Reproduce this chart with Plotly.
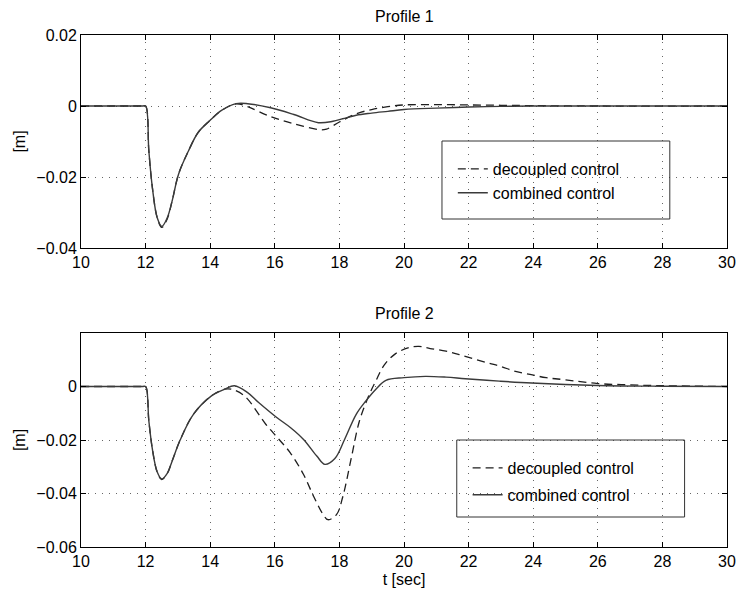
import plotly.graph_objects as go
from plotly.subplots import make_subplots

# ---------------- data ----------------
# Profile 1
t1_comb = [10, 11.9, 12.0, 12.1, 12.21, 12.36, 12.5, 12.67, 12.82, 13.02, 13.33, 13.63, 13.99,
           14.35, 14.8, 15.16, 15.87, 16.59, 17.35, 17.8, 18.1, 18.52, 19.0, 19.5, 20, 21, 22, 23, 24, 26, 30]
y1_comb = [0, 0, 0, -0.0126, -0.023, -0.0315, -0.0339, -0.0315, -0.0268, -0.0192, -0.0126, -0.0074, -0.0041,
           -0.00125, 0.00065, 0.00065, -0.0005, -0.0024, -0.0047, -0.0043, -0.0036, -0.0026, -0.0020, -0.0015,
           -0.0010, -0.0006, -0.0003, -0.0001, 0, 0, 0]
t1_dec = [10, 11.9, 12.0, 12.1, 12.21, 12.36, 12.5, 12.67, 12.82, 13.02, 13.33, 13.63, 13.99,
          14.35, 14.8, 15.16, 15.87, 16.59, 17.4, 17.6, 18.0, 18.52, 19.0, 19.5, 20, 21, 22, 23, 24, 26, 30]
y1_dec = [0, 0, 0, -0.0126, -0.023, -0.0315, -0.0342, -0.0318, -0.0268, -0.0192, -0.0126, -0.0074, -0.0041,
          -0.00125, 0.0006, -0.0002, -0.0030, -0.0050, -0.0067, -0.0065, -0.0045, -0.0022, -0.0010, -0.0002,
          0.0003, 0.0004, 0.0003, 0.0002, 0.0001, 0, 0]

# Profile 2
t2_comb = [10, 11.9, 12.0, 12.1, 12.21, 12.36, 12.5, 12.67, 12.82, 13.07, 13.48, 14.04, 14.45, 14.75,
           15.15, 15.5, 16.05, 16.5, 16.89, 17.3, 17.55, 17.86, 18.16, 18.52, 18.82, 19.13, 19.44, 20.0,
           20.66, 21.3, 21.9, 22.95, 23.95, 26, 28, 30]
y2_comb = [0, 0, 0, -0.0128, -0.0234, -0.0320, -0.0346, -0.0325, -0.0279, -0.0200, -0.0104, -0.0035,
           -0.0010, 0.0003, -0.0022, -0.0060, -0.0115, -0.0155, -0.0198, -0.0260, -0.0291, -0.0269, -0.0198,
           -0.0104, -0.0054, -0.0010, 0.0023, 0.0033, 0.0038, 0.0035, 0.0029, 0.0020, 0.0013, 0.0004,
           0.0001, 0]
t2_dec = [10, 11.9, 12.0, 12.1, 12.21, 12.36, 12.5, 12.67, 12.82, 13.07, 13.48, 14.04, 14.45, 14.65,
          15.06, 15.72, 16.08, 16.48, 16.89, 17.2, 17.5, 17.65, 17.91, 18.11, 18.37, 18.62, 18.93,
          19.13, 19.38, 19.74, 20.15, 20.46, 20.81, 21.3, 21.8, 22.6, 23.0, 23.4, 23.9, 24.4, 25.0,
          26, 27, 28, 30]
y2_dec = [0, 0, 0, -0.0128, -0.0234, -0.0320, -0.0348, -0.0325, -0.0279, -0.0200, -0.0104, -0.0035,
          -0.0010, -0.0010, -0.0035, -0.0141, -0.0191, -0.0248, -0.0329, -0.0410, -0.0479, -0.0498,
          -0.0479, -0.0410, -0.0266, -0.0129, -0.0029, 0.0021, 0.0079, 0.0123, 0.0145, 0.0150, 0.0142,
          0.0132, 0.0116, 0.0088, 0.0075, 0.0058, 0.0045, 0.0033, 0.0025, 0.0011, 0.0006, 0.0003, 0]

x_ticks = [10, 12, 14, 16, 18, 20, 22, 24, 26, 28, 30]
y1_ticks = [0.02, 0, -0.02, -0.04]
y1_ticktext = ["0.02", "0", "\u22120.02", "\u22120.04"]
y2_ticks = [0, -0.02, -0.04, -0.06]
y2_ticktext = ["0", "\u22120.02", "\u22120.04", "\u22120.06"]

names = ["decoupled control", "combined control"]
titles = ["Profile 1", "Profile 2"]

# ---------------- figure ----------------
FONT = "Liberation Sans, Arial, sans-serif"
W, H = 747, 598
ML, MR, MT, MB = 81, 11, 35, 51
PW, PH = W - ML - MR, H - MT - MB

def px_x(p):
    return (p - ML) / PW

def px_y(p):
    return (H - MB - p) / PH

fig = make_subplots(rows=2, cols=1, vertical_spacing=(333 - 248) / PH)
fig.update_layout(
    yaxis=dict(domain=[px_y(248), 1.0]),
    yaxis2=dict(domain=[0.0, px_y(333)]),
)

dash_style = "8px,5px"
solid_col = "#3a3a3a"
dash_col = "#1e1e1e"
SM = 1.0

fig.add_trace(go.Scatter(x=t1_dec, y=y1_dec, mode="lines", name=names[0],
                         line=dict(color=dash_col, width=1.3, dash=dash_style, shape="spline", smoothing=SM),
                         legend="legend", legendgroup="d1"), row=1, col=1)
fig.add_trace(go.Scatter(x=t1_comb, y=y1_comb, mode="lines", name=names[1],
                         line=dict(color=solid_col, width=1.4, shape="spline", smoothing=SM),
                         legend="legend", legendgroup="c1"), row=1, col=1)
fig.add_trace(go.Scatter(x=t2_dec, y=y2_dec, mode="lines", name=names[0],
                         line=dict(color=dash_col, width=1.3, dash=dash_style, shape="spline", smoothing=SM),
                         legend="legend2", legendgroup="d2"), row=2, col=1)
fig.add_trace(go.Scatter(x=t2_comb, y=y2_comb, mode="lines", name=names[1],
                         line=dict(color=solid_col, width=1.4, shape="spline", smoothing=SM),
                         legend="legend2", legendgroup="c2"), row=2, col=1)

axis_common = dict(showline=True, linecolor="black", linewidth=1, mirror="ticks",
                   ticks="inside", ticklen=5, tickcolor="black",
                   showgrid=True, gridcolor="#666666", griddash="1px,6px", gridwidth=1,
                   zeroline=False, tickfont=dict(size=16, color="black", family=FONT))

for r in (1, 2):
    fig.update_xaxes(range=[10, 30], tickvals=x_ticks, row=r, col=1, **axis_common)
fig.update_xaxes(title=dict(text="t [sec]", font=dict(size=16, color="black", family=FONT), standoff=4),
                 row=2, col=1)
fig.update_yaxes(range=[-0.04, 0.02], tickvals=y1_ticks, ticktext=y1_ticktext, row=1, col=1,
                 title=dict(text="[m]", font=dict(size=16, color="black", family=FONT), standoff=6),
                 **axis_common)
fig.update_yaxes(range=[-0.06, 0.02], tickvals=y2_ticks, ticktext=y2_ticktext, row=2, col=1,
                 title=dict(text="[m]", font=dict(size=16, color="black", family=FONT), standoff=6),
                 **axis_common)

legend_common = dict(bgcolor="rgba(0,0,0,0)", borderwidth=0,
                     font=dict(size=16, color="black", family=FONT),
                     xanchor="left", yanchor="top", itemwidth=30)

fig.update_layout(
    width=W, height=H,
    margin=dict(l=ML, r=MR, t=MT, b=MB),
    paper_bgcolor="white", plot_bgcolor="white",
    font=dict(family=FONT, size=16, color="black"),
    legend=dict(x=px_x(458), y=px_y(152), tracegroupgap=0, **legend_common),
    legend2=dict(x=px_x(473), y=px_y(451), tracegroupgap=3, **legend_common),
    shapes=[
        dict(type="rect", xref="paper", yref="paper", x0=px_x(447), x1=px_x(678),
             y0=px_y(219), y1=px_y(141), line=dict(color="#333", width=1)),
        dict(type="rect", xref="paper", yref="paper", x0=px_x(462), x1=px_x(693),
             y0=px_y(517), y1=px_y(440), line=dict(color="#333", width=1)),
    ],
    annotations=[
        dict(text=titles[0], xref="paper", yref="paper", x=px_x(409), y=px_y(16),
             showarrow=False, font=dict(size=16, color="black", family=FONT), yanchor="middle"),
        dict(text=titles[1], xref="paper", yref="paper", x=px_x(409), y=px_y(313),
             showarrow=False, font=dict(size=16, color="black", family=FONT), yanchor="middle"),
    ],
)

fig.write_html("out.html")
